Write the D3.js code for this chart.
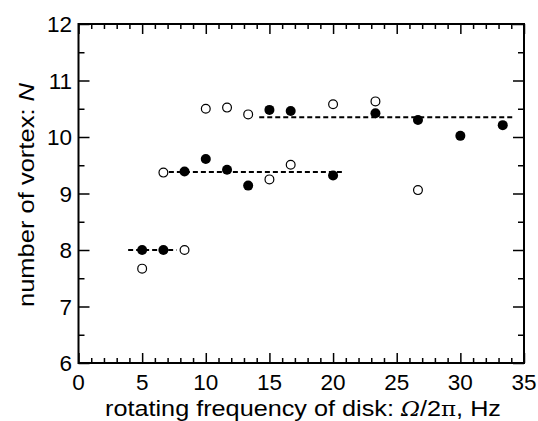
<!DOCTYPE html>
<html><head><meta charset="utf-8">
<script src="https://cdn.jsdelivr.net/npm/d3@7"></script>
<style>body{margin:0;background:#fff}svg{display:block}text{font-family:"Liberation Sans",Arial,Helvetica,sans-serif;fill:#000}</style>
</head><body>
<script>
const filledX = [5.0, 6.67, 8.33, 10.0, 11.67, 13.33, 15.0, 16.67, 20.0, 23.33, 26.67, 30.0, 33.33];
const filledY = [8.0, 8.0, 9.39, 9.61, 9.42, 9.14, 10.48, 10.46, 9.32, 10.42, 10.30, 10.02, 10.21];
const openX = [5.0, 6.67, 8.33, 10.0, 11.67, 13.33, 15.0, 16.67, 20.0, 23.33, 26.67];
const openY = [7.67, 9.37, 8.0, 10.50, 10.52, 10.40, 9.25, 9.51, 10.58, 10.63, 9.06];
const levelX0 = [3.9, 7.1, 14.2];
const levelX1 = [7.7, 20.7, 34.1];
const levelY = [8.0, 9.38, 10.35];
const xTicks = [0, 5, 10, 15, 20, 25, 30, 35];
const yTicks = [6, 7, 8, 9, 10, 11, 12];

const W = 538, H = 421;
const L = 78.5, R = 524, T = 24, B = 363;
const svg = d3.select("body").append("svg").attr("width", W).attr("height", H);
const x = d3.scaleLinear().domain([0, 35]).range([L, R]);
const y = d3.scaleLinear().domain([6, 12]).range([B, T]);

const xMinor = d3.range(0, 36, 1).filter(v => v % 5 !== 0);
const yMinor = d3.range(6.5, 12, 1);
function axisG(axis, tr) { return svg.append("g").attr("transform", tr).call(axis); }
const tk = g => { g.select(".domain").remove(); g.selectAll("line").attr("stroke", "#000").attr("stroke-width", 1.5); g.selectAll("text").remove(); };
axisG(d3.axisBottom(x).tickValues(xTicks).tickSize(-10), `translate(0,${B})`).call(tk);
axisG(d3.axisBottom(x).tickValues(xMinor).tickSize(-5), `translate(0,${B})`).call(tk);
axisG(d3.axisTop(x).tickValues(xTicks).tickSize(-10), `translate(0,${T})`).call(tk);
axisG(d3.axisTop(x).tickValues(xMinor).tickSize(-5), `translate(0,${T})`).call(tk);
axisG(d3.axisLeft(y).tickValues(yTicks).tickSize(-11), `translate(${L},0)`).call(tk);
axisG(d3.axisLeft(y).tickValues(yMinor).tickSize(-6), `translate(${L},0)`).call(tk);
axisG(d3.axisRight(y).tickValues(yTicks).tickSize(-11), `translate(${R},0)`).call(tk);
axisG(d3.axisRight(y).tickValues(yMinor).tickSize(-6), `translate(${R},0)`).call(tk);

svg.append("g").selectAll("text").data(xTicks).join("text")
  .attr("x", d => x(d)).attr("y", B + 27).attr("text-anchor", "middle")
  .attr("font-size", 22.5).text(d => d);
svg.append("g").selectAll("text").data(yTicks).join("text")
  .attr("x", L - 6.5).attr("y", d => y(d) + 8).attr("text-anchor", "end")
  .attr("font-size", 22.5).text(d => d);

svg.append("rect").attr("x", L).attr("y", T).attr("width", R - L).attr("height", B - T)
  .attr("fill", "none").attr("stroke", "#000").attr("stroke-width", 2);

svg.append("g").selectAll("line").data(levelY).join("line")
  .attr("x1", (d, i) => x(levelX0[i])).attr("x2", (d, i) => x(levelX1[i]))
  .attr("y1", d => y(d)).attr("y2", d => y(d))
  .attr("stroke", "#000").attr("stroke-width", 2).attr("stroke-dasharray", "5,3");

svg.append("g").selectAll("circle").data(openX).join("circle")
  .attr("cx", d => x(d)).attr("cy", (d, i) => y(openY[i])).attr("r", 4.4)
  .attr("fill", "#fff").attr("stroke", "#000").attr("stroke-width", 1.2);
svg.append("g").selectAll("circle").data(filledX).join("circle")
  .attr("cx", d => x(d)).attr("cy", (d, i) => y(filledY[i])).attr("r", 5)
  .attr("fill", "#000");

const xt = svg.append("text").attr("x", 105).attr("y", 416).attr("font-size", 22)
  .attr("textLength", 396).attr("lengthAdjust", "spacingAndGlyphs");
xt.append("tspan").text("rotating frequency of disk: ");
xt.append("tspan").attr("font-style", "italic").attr("font-family", "DejaVu Serif, serif").attr("font-size", 20).text("Ω");
xt.append("tspan").text("/2");
xt.append("tspan").attr("font-family", "DejaVu Serif, serif").attr("font-size", 20).text("π");
xt.append("tspan").text(", Hz");

const yt = svg.append("text").attr("transform", `translate(33.5,307) rotate(-90)`)
  .attr("font-size", 22).attr("textLength", 224).attr("lengthAdjust", "spacingAndGlyphs");
yt.append("tspan").text("number of vortex: ");
yt.append("tspan").attr("font-style", "italic").text("N");
</script>
</body></html>
